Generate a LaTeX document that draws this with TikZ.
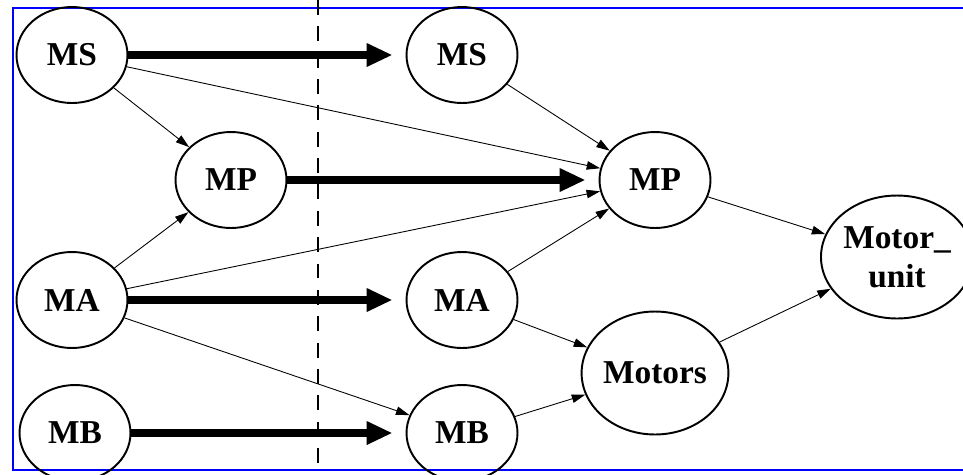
\documentclass[tikz,border=0pt]{standalone}
\usepackage{fontspec}
\setmainfont{Liberation Serif}
\usetikzlibrary{arrows.meta, positioning, shapes.geometric, calc}
\definecolor{frameblue}{RGB}{0, 0, 255}

\begin{document}
\begin{tikzpicture}[x=0.02cm, y=-0.02cm,
    unit/.style={ellipse, draw=black, line width=1.1pt, inner sep=0pt,
        minimum width=2.22cm, minimum height=1.92cm,
        font=\fontsize{19}{22}\selectfont\bfseries, align=center},
    flow/.style={-{Triangle[length=0.52cm, width=0.44cm]}, line width=4pt, shorten >=0.26cm},
    link/.style={-{Triangle[length=0.27cm, width=0.17cm]}, line width=0.5pt}]
    \useasboundingbox (0,0) rectangle (963,474);
    % Frame
    \draw[frameblue, line width=1.2pt] (963,8) -- (13,8) -- (13,470) -- (963,470);
    \draw[dash pattern=on 8.5pt off 6.5pt, line width=0.6pt] (318,0) -- (318,474);

    % Left column
    \node[unit] (msL) at (72,55) {MS};
    \node[unit] (mpL) at (231,180) {MP};
    \node[unit] (maL) at (72,300) {MA};
    \node[unit] (mbL) at (75,433) {MB};

    % Right column
    \node[unit] (msR) at (462,55) {MS};
    \node[unit] (mpR) at (655,180) {MP};
    \node[unit] (maR) at (462,300) {MA};
    \node[unit] (mbR) at (462,433) {MB};
    \node[unit, minimum width=2.8cm, minimum height=2.46cm] (mot) at (655,373) {Motors};
    \node[unit, minimum width=2.54cm, minimum height=2.46cm] (mu) at (897,257) {Motor\_\\unit};

    % Thick links
    \draw[flow] (msL) -- (msR);
    \draw[flow] (mpL) -- (mpR);
    \draw[flow] (maL) -- (maR);
    \draw[flow] (mbL) -- (mbR);

    % Thin links
    \draw[link] (msL) -- (mpL);
    \draw[link] (msL) -- (mpR);
    \draw[link] (msR) -- (mpR);
    \draw[link] (maL) -- (mpL);
    \draw[link] (maL) -- (mpR);
    \draw[link] (maL) -- (mbR);
    \draw[link] (maR) -- (mpR);
    \draw[link] (maR) -- (mot);
    \draw[link] (mbR) -- (mot);
    \draw[link] (mpR) -- (mu);
    \draw[link] (mot) -- (mu);
\end{tikzpicture}
\end{document}
